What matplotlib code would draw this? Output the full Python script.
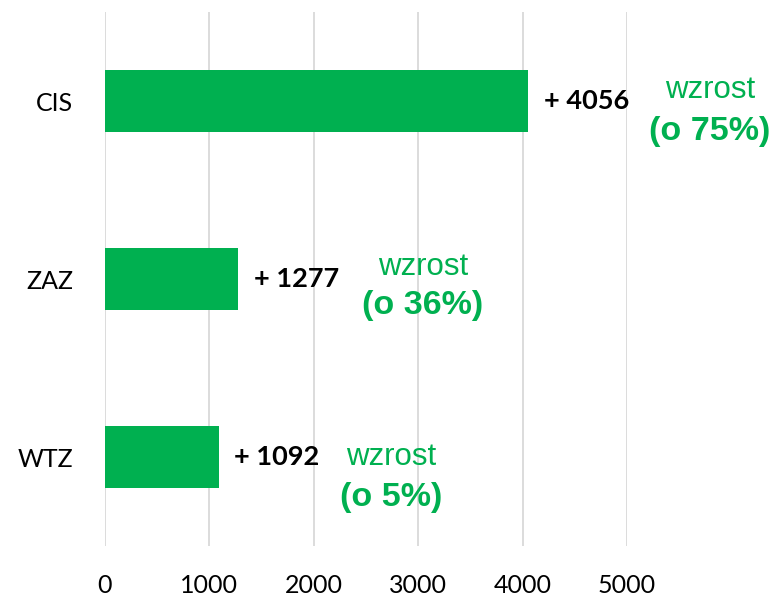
import matplotlib
matplotlib.use("Agg")
import matplotlib.pyplot as plt

categories = ["CIS", "ZAZ", "WTZ"]
values = [4056, 1277, 1092]
value_labels = ["+ 4056", "+ 1277", "+ 1092"]
growth_labels = ["(o 75%)", "(o 36%)", "(o 5%)"]
growth_word = "wzrost"
xticks = [0, 1000, 2000, 3000, 4000, 5000]

# annotation placement (data x, category offsets)
note_x = [5795, 3046, 2739]
word_dy = [-0.06, -0.065, 0.0]
pct_dy = [0.17, 0.15, 0.225]

GREEN = "#00B050"

fig = plt.figure(figsize=(7.77, 5.97), dpi=100)
ax = fig.add_axes([105/777, 1-546/597, (627-105)/777, (546-12)/597])

ypos = list(range(len(categories)))
ax.barh(ypos, values, height=0.35, color=GREEN, zorder=2)
ax.set_ylim(2.5, -0.5)
ax.set_xlim(0, 5000)
ax.set_xticks(xticks)
ax.set_xticklabels([str(t) for t in xticks], fontfamily="Lato", fontsize=18)
ax.set_yticks(ypos)
ax.set_yticklabels(categories, fontfamily="Lato", fontsize=18)
ax.tick_params(axis="both", length=0, colors="#000000")
ax.tick_params(axis="x", pad=20)
ax.tick_params(axis="y", pad=23)
ax.grid(axis="x", color="#d9d9d9", linewidth=1.3, zorder=0)
for s in ax.spines.values():
    s.set_visible(False)

for i, (v, lab) in enumerate(zip(values, value_labels)):
    ax.annotate(lab, xy=(v, i), xytext=(11, 0), textcoords="offset points",
                ha="left", va="center", fontfamily="Lato", fontweight="bold",
                fontsize=19.5, color="#000000", annotation_clip=False, zorder=3)
    ax.text(note_x[i], i + word_dy[i], growth_word, ha="center", va="center",
            fontfamily="Liberation Sans", fontsize=22.5, color=GREEN, clip_on=False, zorder=3)
    ax.text(note_x[i], i + pct_dy[i], growth_labels[i], ha="center", va="center",
            fontfamily="Liberation Sans", fontweight="bold", fontsize=24.5, color=GREEN,
            clip_on=False, zorder=3)

fig.savefig("out.png", dpi=100)
